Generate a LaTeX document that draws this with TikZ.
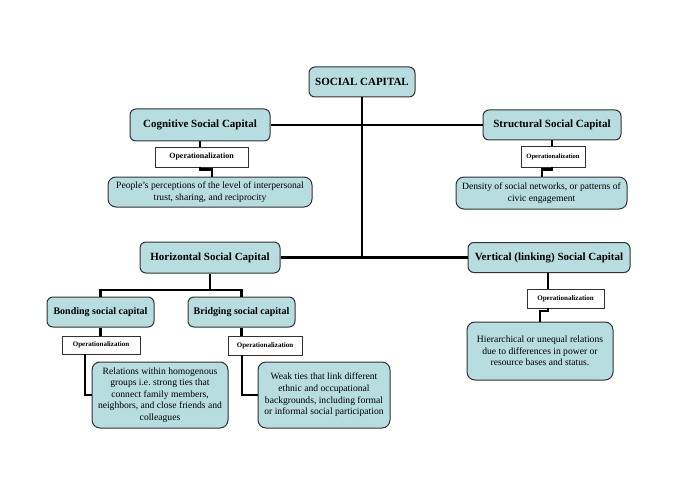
\documentclass[tikz,border=0pt]{standalone}
\usepackage{fontspec}
\setmainfont{Liberation Serif}
\definecolor{boxfill}{RGB}{183,221,224}
\definecolor{boxline}{RGB}{50,50,50}
\tikzset{
  capbox/.style={draw=boxline,fill=boxfill,rounded corners=6pt,line width=1pt,
    font=\bfseries\fontsize{11}{13}\selectfont,inner sep=0pt},
  descbox/.style={draw=boxline,fill=boxfill,rounded corners=8pt,line width=1pt,
    font=\fontsize{9.6}{11.6}\selectfont,align=center,inner sep=0pt},
  opbox/.style={draw=boxline,fill=white,line width=0.8pt,
    font=\bfseries\fontsize{7}{8}\selectfont,inner sep=0pt},
  link/.style={line width=2.4pt,black}
}
\begin{document}
\begin{tikzpicture}[x=1pt,y=-1pt]
  \useasboundingbox (0,0) rectangle (685,484);
  % top level
  \node[capbox,minimum width=106,minimum height=30] (soc) at (362,82) {SOCIAL CAPITAL};
  \node[capbox,minimum width=140,minimum height=32] (cog) at (200,125) {Cognitive Social Capital};
  \node[capbox,minimum width=138,minimum height=30] (str) at (552,125) {Structural Social Capital};
  \node[capbox,minimum width=140,minimum height=31] (hor) at (210,257.5) {Horizontal Social Capital};
  \node[capbox,minimum width=162,minimum height=30] (ver) at (549,257.5) {Vertical (linking) Social Capital};
  \node[capbox,minimum width=107,minimum height=30,font=\bfseries\fontsize{10}{12}\selectfont] (bond) at (100.5,312) {Bonding social capital};
  \node[capbox,minimum width=107,minimum height=30,font=\bfseries\fontsize{10}{12}\selectfont] (brid) at (241.5,312) {Bridging social capital};
  % operationalization boxes
  \node[opbox,minimum width=93,minimum height=20,font=\bfseries\fontsize{8}{9}\selectfont] (cogop) at (201.5,157) {Operationalization};
  \node[opbox,minimum width=64,minimum height=21,font=\bfseries\fontsize{6.6}{8}\selectfont] (strop) at (553,156.5) {Operationalization};
  \node[opbox,minimum width=77,minimum height=19] (verop) at (565.5,298.5) {Operationalization};
  \node[opbox,minimum width=78,minimum height=18] (bondop) at (101,345) {Operationalization};
  \node[opbox,minimum width=74,minimum height=19] (bridop) at (265,345.5) {Operationalization};
  % descriptions
  \node[descbox,minimum width=204,minimum height=30] (cogdesc) at (210,192)
    {People's perceptions of the level of interpersonal\\trust, sharing, and reciprocity};
  \node[descbox,minimum width=171,minimum height=32] (strdesc) at (541.5,193)
    {Density of social networks, or patterns of\\civic engagement};
  \node[descbox,minimum width=146,minimum height=58] (verdesc) at (540,351)
    {Hierarchical or unequal relations\\due to differences in power or\\resource bases and status.};
  \node[descbox,minimum width=136,minimum height=66] (bonddesc) at (160,395)
    {Relations within homogenous\\groups i.e.\ strong ties that\\connect family members,\\neighbors, and close friends and\\colleagues};
  \node[descbox,minimum width=132,minimum height=66] (briddesc) at (324,395)
    {Weak ties that link different\\ethnic and occupational\\backgrounds, including formal\\or informal social participation};
  % trunk
  \coordinate (trunk) at (362,257.5);
  \draw[link] (soc.south) -- (trunk);
  \draw[link] (cog.east) -- (str.west);
  \draw[link] (hor.east) -- (ver.west);
  % horizontal branches
  \coordinate (hsplit) at (210,290);
  \draw[link] (hor.south) -- (hsplit);
  \draw[link] (bond.north) |- (hsplit) -| (brid.north);
  % operationalization links
  \draw[link] (cog.south) -- (cog.south |- cogop.north);
  \draw[link] (cogop.south -| cog.south) -- ++(0,2) -| (212,177);
  \draw[link] (str.south) -- (str.south |- strop.north);
  \draw[link] (strop.south -| str.south) -- ++(0,2) -| (542,177);
  \draw[link] (548,273) -- (548,289);
  \draw[link] (548,308) -- (548,311) -| (540,322);
  \draw[link] (bond.south) -- (bond.south |- bondop.north);
  \draw[link] (85,354) |- (bonddesc.west);
  \draw[link] (brid.south) -- (brid.south |- bridop.north);
  \draw[link] (242,355) |- (briddesc.west);
\end{tikzpicture}
\end{document}
